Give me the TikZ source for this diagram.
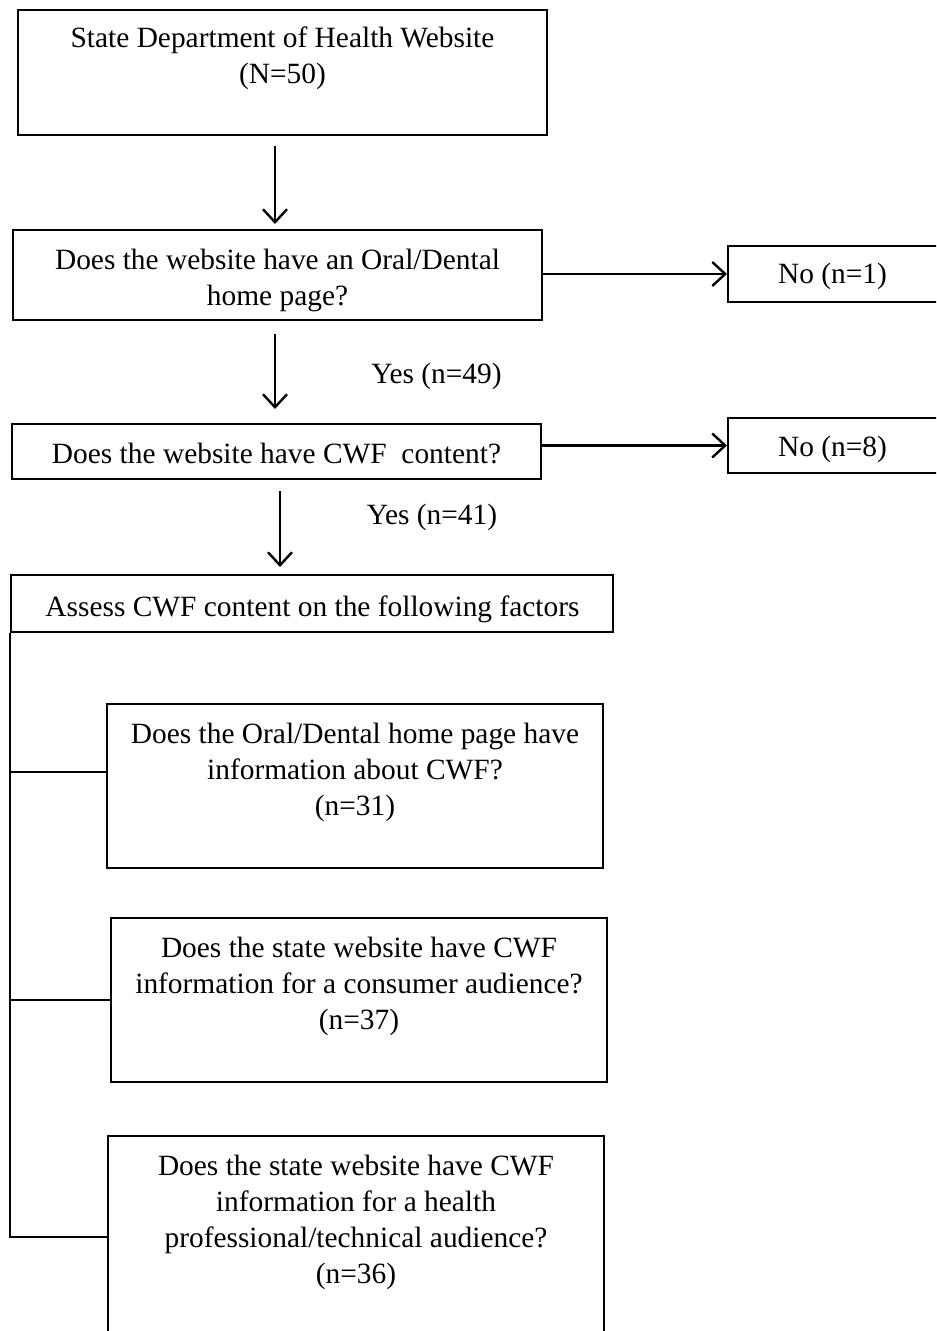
\documentclass[tikz,border=0pt]{standalone}
\usepackage{fontspec}
\setmainfont{Liberation Serif}
\usetikzlibrary{arrows.meta}
\begin{document}
\begin{tikzpicture}[x=0.5pt,y=-0.5pt,
  box/.style={draw, line width=1pt, inner sep=0pt},
  lbl/.style={inner sep=0pt, align=center},
  arr/.style={line width=1.2pt, -{Straight Barb[length=6.5pt,width=12pt,line width=1.2pt]}},
  tree/.style={line width=0.9pt},
  font=\fontsize{14.7}{18}\selectfont]
\useasboundingbox (0,0) rectangle (936,1331);
\clip (0,0) rectangle (936,1331);
% boxes
\node[box, minimum width=264.5pt, minimum height=62.5pt] (b1) at (282.5,72.5) {};
\node[box, minimum width=264.5pt, minimum height=45pt] (b2) at (277.5,275) {};
\node[box, minimum width=106pt, minimum height=28pt] (n1) at (834,274) {};
\node[box, minimum width=264.5pt, minimum height=27.5pt] (b3) at (276.5,451.5) {};
\node[box, minimum width=106pt, minimum height=27.5pt] (n2) at (834,445.5) {};
\node[box, minimum width=301pt, minimum height=28.5pt] (b4) at (312,603.5) {};
\node[box, minimum width=248pt, minimum height=82pt] (b5) at (355,786) {};
\node[box, minimum width=248pt, minimum height=82pt] (b6) at (359,1000) {};
\node[box, minimum width=248pt, minimum height=107pt] (b7) at (356,1243) {};
% texts
\node[lbl] (t1) at (282.5,58) {State Department of Health Website\\(N=50)};
\node[lbl] (t2) at (277.5,280) {Does the website have an Oral/Dental\\home page?};
\node[lbl] (tn1) at (832.5,276) {No (n=1)};
\node[lbl] (t3) at (276.5,454) {Does the website have CWF\ \ content?};
\node[lbl] (tn2) at (832.5,449) {No (n=8)};
\node[lbl] (t4) at (312.5,609) {Assess CWF content on the following factors};
\node[lbl] (t5) at (355,772) {Does the Oral/Dental home page have\\information about CWF?\\(n=31)};
\node[lbl] (t6) at (359,986.5) {Does the state website have CWF\\information for a consumer audience?\\(n=37)};
\node[lbl] (t7) at (356,1222) {Does the state website have CWF\\information for a health\\professional/technical audience?\\(n=36)};
% labels
\node[lbl] (y1) at (436.5,376) {Yes (n=49)};
\node[lbl] (y2) at (432,517) {Yes (n=41)};
% arrows
\coordinate (x1) at (275,0);
\coordinate (x3) at (280,0);
\draw[arr, shorten <=5pt, shorten >=2.5pt] (b1.south -| x1) -- (b2.north -| x1);
\draw[arr, shorten <=6.5pt, shorten >=7pt] (b2.south -| x1) -- (b3.north -| x1);
\draw[arr, shorten <=5.5pt, shorten >=3.5pt] (b3.south -| x3) -- (b4.north -| x3);
\draw[arr] (b2.east |- n1.west) -- (n1.west);
\draw[arr] (b3.east |- n2.west) -- (n2.west);
% tree
\coordinate (j1) at ([yshift=7pt]b5.west);
\coordinate (j2) at (b6.west);
\coordinate (j3) at ([yshift=3pt]b7.west);
\draw[tree] (b4.south west) -- (b4.south west |- j3) -- (j3);
\draw[tree] (b4.south west |- j1) -- (j1);
\draw[tree] (b4.south west |- j2) -- (j2);
\end{tikzpicture}
\end{document}
